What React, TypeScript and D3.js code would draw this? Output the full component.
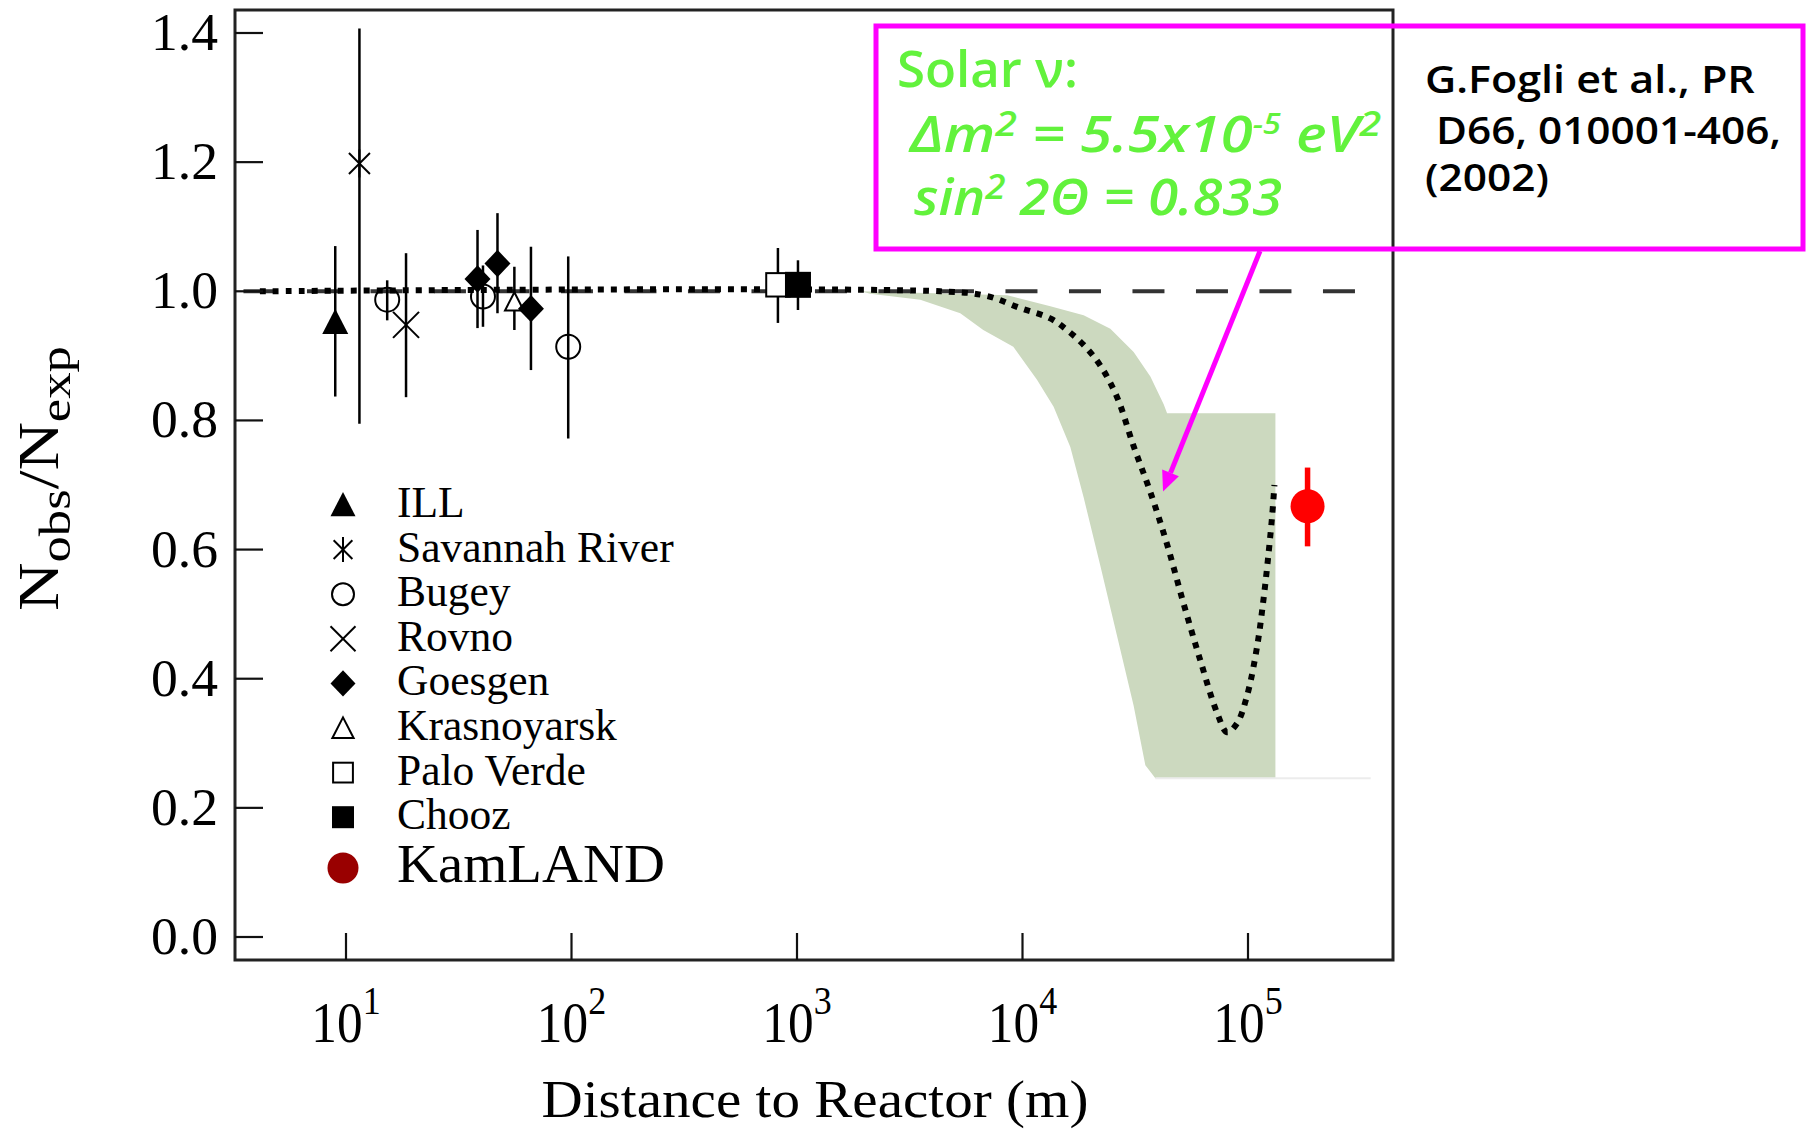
import React, { useLayoutEffect, useRef } from 'react';
import * as d3 from 'd3';

// ---------- data ----------
const xTickValues = [1e1, 1e2, 1e3, 1e4, 1e5];
const xTickExponents = ['1', '2', '3', '4', '5'];
const yTickValues = [0, 0.2, 0.4, 0.6, 0.8, 1.0, 1.2, 1.4];
const yTickLabels = ['0.0', '0.2', '0.4', '0.6', '0.8', '1.0', '1.2', '1.4'];

const legendNames = ['ILL', 'Savannah River', 'Bugey', 'Rovno', 'Goesgen', 'Krasnoyarsk', 'Palo Verde', 'Chooz'];
const legendSymbols = ['triangle', 'asterisk', 'circle', 'cross', 'diamond', 'openTriangle', 'openSquare', 'square'];

const pointSymbol = ['triangle', 'asterisk', 'circle', 'cross', 'diamond', 'circle', 'diamond', 'openTriangle', 'diamond', 'circle', 'openSquare', 'square'];
const pointDistance = [8.96, 11.47, 15.23, 18.46, 38.3, 40.5, 46.96, 55.8, 66.1, 96.7, 823, 1010];
const pointRatio = [0.952, 1.198, 0.987, 0.948, 1.019, 0.992, 1.043, 0.984, 0.973, 0.914, 1.01, 1.01];
const pointErrHigh = [1.07, 1.407, 1.017, 1.059, 1.095, 1.04, 1.121, 1.038, 1.069, 1.054, 1.067, 1.048];
const pointErrLow = [0.837, 0.795, 0.955, 0.836, 0.943, 0.945, 0.966, 0.94, 0.878, 0.772, 0.951, 0.971];

const kamlandDistance = 1.837e5;
const kamlandRatio = 0.667;
const kamlandErrHigh = 0.727;
const kamlandErrLow = 0.605;

const curveDistance = [4.15, 4315, 6900, 9770, 13285, 15750, 18665, 22140, 26265, 31110, 36900, 43770, 51840, 61500, 72940, 80800, 89460, 99100, 109750, 117430, 123600, 127940, 131000];
const curveRatio = [1.0, 1.0, 0.993, 0.974, 0.958, 0.94, 0.917, 0.885, 0.836, 0.76, 0.689, 0.608, 0.516, 0.428, 0.347, 0.317, 0.331, 0.374, 0.45, 0.526, 0.597, 0.652, 0.7];

const bandUpperDistance = [1908, 4932, 8561, 13285, 18665, 24520, 31110, 36900, 42270, 43770, 132300];
const bandUpperRatio = [1.0, 0.996, 0.994, 0.977, 0.963, 0.942, 0.906, 0.868, 0.825, 0.811, 0.811];
const bandLowerDistance = [1908, 2113, 3521, 5297, 6700, 9104, 11595, 13740, 16293, 18665, 22141, 26265, 31109, 35060, 38840, 132300];
const bandLowerRatio = [1.0, 0.996, 0.987, 0.966, 0.94, 0.914, 0.863, 0.821, 0.759, 0.681, 0.575, 0.466, 0.358, 0.266, 0.246, 0.246];

const refLineFrom = 3.51;
const refLineTo = 3.06e5;
const refLineRatio = 1.0;
const bandBaseTo = 3.5e5;
const arrowTarget: [number, number] = [42000, 0.69];

// ---------- layout ----------
const W = 1807;
const H = 1131;
const frame = { left: 235, right: 1393, top: 10, bottom: 960 };
const serif = '"Liberation Serif", "Times New Roman", serif';
const sans = '"Open Sans", "Noto Sans", sans-serif';
const green = '#62f23c';
const magenta = '#ff00ff';

const x = d3.scaleLog().domain([1e1, 1e5]).range([346, 1248]);
const y = d3.scaleLinear().domain([0, 1.4]).range([937, 33]);

function Marker({ type, cx, cy, s }: { type: string; cx: number; cy: number; s: number }) {
  const h = s / 2;
  switch (type) {
    case 'triangle':
      return <path d={`M${cx},${cy - h * 1.05}L${cx + h},${cy + h * 0.9}L${cx - h},${cy + h * 0.9}Z`} fill="#000" />;
    case 'openTriangle':
      return <path d={`M${cx},${cy - h * 0.85}L${cx + h * 0.85},${cy + h * 0.8}L${cx - h * 0.85},${cy + h * 0.8}Z`} fill="#fff" stroke="#000" strokeWidth={2} />;
    case 'asterisk': {
      const a = h * 0.75;
      return (
        <g stroke="#000" strokeWidth={2} fill="none">
          <line x1={cx} y1={cy - h} x2={cx} y2={cy + h} />
          <line x1={cx - a} y1={cy - a} x2={cx + a} y2={cy + a} />
          <line x1={cx - a} y1={cy + a} x2={cx + a} y2={cy - a} />
        </g>
      );
    }
    case 'circle':
      return <circle cx={cx} cy={cy} r={h - 1} fill="none" stroke="#000" strokeWidth={2} />;
    case 'cross':
      return (
        <g stroke="#000" strokeWidth={2}>
          <line x1={cx - h} y1={cy - h} x2={cx + h} y2={cy + h} />
          <line x1={cx - h} y1={cy + h} x2={cx + h} y2={cy - h} />
        </g>
      );
    case 'diamond':
      return <path d={`M${cx},${cy - h * 1.05}L${cx + h},${cy}L${cx},${cy + h * 1.05}L${cx - h},${cy}Z`} fill="#000" />;
    case 'openSquare':
      return <rect x={cx - h * 0.9} y={cy - h * 0.9} width={s * 0.9} height={s * 0.9} fill="#fff" stroke="#000" strokeWidth={2} />;
    case 'square':
      return <rect x={cx - h} y={cy - h} width={s} height={s} fill="#000" />;
    default:
      return null;
  }
}

export default function App() {
  const ref = useRef<SVGSVGElement>(null);

  useLayoutEffect(() => {
    const fit = () => {
      const svg = ref.current;
      if (!svg) return;
      svg.querySelectorAll('[data-fitw]').forEach((node) => {
        const el = node as SVGTextElement;
        const target = +(el.getAttribute('data-fitw') || 0);
        const ax = +(el.getAttribute('data-ax') || 0);
        el.removeAttribute('transform');
        const w = el.getBBox().width;
        if (w > 0) {
          const s = target / w;
          el.setAttribute('transform', `translate(${ax * (1 - s)},0) scale(${s},1)`);
        }
      });
    };
    fit();
    if ((document as any).fonts && (document as any).fonts.ready) {
      (document as any).fonts.ready.then(fit);
    }
  }, []);

  const line = d3
    .line<[number, number]>()
    .x((d) => x(d[0]))
    .y((d) => y(d[1]));

  const curvePts: [number, number][] = curveDistance.map((d, i) => [d, curveRatio[i]]);
  const curvePath = d3
    .line<[number, number]>()
    .x((d) => x(d[0]))
    .y((d) => y(d[1]))
    .curve(d3.curveCatmullRom.alpha(0.5))(curvePts) as string;

  const bandPts: [number, number][] = [
    ...bandUpperDistance.map((d, i) => [d, bandUpperRatio[i]] as [number, number]),
    ...bandLowerDistance
      .map((d, i) => [d, bandLowerRatio[i]] as [number, number])
      .reverse(),
  ];
  const bandPath = (line(bandPts) as string) + 'Z';

  // arrow geometry
  const ax0 = 1260;
  const ay0 = 251;
  const ax1 = x(arrowTarget[0]);
  const ay1 = y(arrowTarget[1]);
  const ang = Math.atan2(ay1 - ay0, ax1 - ax0);
  const headL = 20;
  const headW = 9;
  const bx = ax1 - headL * Math.cos(ang);
  const by = ay1 - headL * Math.sin(ang);
  const px = -Math.sin(ang);
  const py = Math.cos(ang);

  const legendY0 = 505;
  const legendStep = 44.6;
  const legendSymX = 343;
  const legendTextX = 397;

  return (
    <svg
      ref={ref}
      width={W}
      height={H}
      viewBox={`0 0 ${W} ${H}`}
      style={{ position: 'absolute', left: 0, top: 0, background: '#fff' }}
    >
      <rect x={0} y={0} width={W} height={H} fill="#fff" />

      {/* band */}
      <path d={bandPath} fill="#ccd9bf" stroke="none" />
      <line
        x1={x(bandLowerDistance[bandLowerDistance.length - 2])}
        x2={x(bandBaseTo)}
        y1={y(bandLowerRatio[bandLowerRatio.length - 1])}
        y2={y(bandLowerRatio[bandLowerRatio.length - 1])}
        stroke="#ececec"
        strokeWidth={2}
      />

      {/* reference dashed line at 1 */}
      <line
        x1={x(refLineFrom)}
        x2={x(refLineTo)}
        y1={y(refLineRatio)}
        y2={y(refLineRatio)}
        stroke="#333"
        strokeWidth={4}
        strokeDasharray="32 31.5"
      />

      {/* dotted oscillation curve */}
      <path d={curvePath} fill="none" stroke="#000" strokeWidth={6} strokeDasharray="6 7" />

      {/* error bars */}
      {pointDistance.map((d, i) => (
        <line
          key={`e${i}`}
          x1={x(d)}
          x2={x(d)}
          y1={y(pointErrHigh[i])}
          y2={y(pointErrLow[i])}
          stroke="#000"
          strokeWidth={2.5}
        />
      ))}
      {/* markers */}
      {pointDistance.map((d, i) => (
        <Marker
          key={`m${i}`}
          type={pointSymbol[i]}
          cx={x(d)}
          cy={y(pointRatio[i])}
          s={pointSymbol[i] === 'openTriangle' ? 22 : pointSymbol[i] === 'asterisk' ? 28 : 26}
        />
      ))}

      {/* KamLAND */}
      <line
        x1={x(kamlandDistance)}
        x2={x(kamlandDistance)}
        y1={y(kamlandErrHigh)}
        y2={y(kamlandErrLow)}
        stroke="#ff0000"
        strokeWidth={5.5}
      />
      <circle cx={x(kamlandDistance)} cy={y(kamlandRatio)} r={17} fill="#ff0000" />

      {/* frame */}
      <rect
        x={frame.left}
        y={frame.top}
        width={frame.right - frame.left}
        height={frame.bottom - frame.top}
        fill="none"
        stroke="#222"
        strokeWidth={3}
      />

      {/* y ticks */}
      {yTickValues.map((v, i) => (
        <g key={`yt${i}`}>
          <line x1={frame.left} x2={frame.left + 28} y1={y(v)} y2={y(v)} stroke="#111" strokeWidth={2.2} />
          <text
            x={218}
            y={y(v) + 17}
            textAnchor="end"
            fontFamily={serif}
            fontSize={53}
            fill="#000"
            data-fitw={67}
            data-ax={218}
          >
            {yTickLabels[i]}
          </text>
        </g>
      ))}

      {/* x ticks */}
      {xTickValues.map((v, i) => (
        <g key={`xt${i}`}>
          <line x1={x(v)} x2={x(v)} y1={frame.bottom} y2={frame.bottom - 27} stroke="#111" strokeWidth={2.2} />
          <g transform={`translate(${x(v)},1042) scale(0.9,1)`}>
            <text x={0} y={0} textAnchor="middle" fontFamily={serif} fontSize={57} fill="#000">
              10
              <tspan dy={-28} fontSize={40}>
                {xTickExponents[i]}
              </tspan>
            </text>
          </g>
        </g>
      ))}

      {/* axis titles */}
      <text
        x={815}
        y={1117}
        textAnchor="middle"
        fontFamily={serif}
        fontSize={53}
        fill="#000"
        data-fitw={547}
        data-ax={815}
      >
        Distance to Reactor (m)
      </text>
      <g transform="translate(58,478.5) rotate(-90)">
        <text x={0} y={0} textAnchor="middle" fontFamily={serif} fontSize={56} fill="#000" data-fitw={265} data-ax={0}>
          N
          <tspan fontSize={44} dy={12}>
            obs
          </tspan>
          <tspan dy={-12}>/N</tspan>
          <tspan fontSize={44} dy={12}>
            exp
          </tspan>
        </text>
      </g>

      {/* legend */}
      {legendNames.map((name, i) => {
        const cy = legendY0 + i * legendStep;
        const sym = legendSymbols[i];
        const s = sym === 'openTriangle' ? 25 : sym === 'openSquare' || sym === 'square' ? 22 : sym === 'circle' ? 24 : 25;
        return (
          <g key={`lg${i}`}>
            <Marker type={sym} cx={legendSymX} cy={cy} s={s} />
            <text x={legendTextX} y={cy + 12} fontFamily={serif} fontSize={43.5} fill="#000">
              {name}
            </text>
          </g>
        );
      })}
      <circle cx={legendSymX} cy={868} r={15.5} fill="#990000" />
      <text x={legendTextX} y={882} fontFamily={serif} fontSize={54} fill="#000" data-fitw={268} data-ax={legendTextX}>
        KamLAND
      </text>

      {/* annotation box */}
      <rect x={876} y={26} width={927} height={223} fill="none" stroke={magenta} strokeWidth={5} />
      <text x={897} y={87} fontFamily={sans} fontSize={50} fontWeight={600} fill={green} data-fitw={181} data-ax={897}>
        Solar ν:
      </text>
      <text x={910} y={152} fontFamily={sans} fontSize={50} fontWeight={600} fontStyle="italic" fill={green} data-fitw={474} data-ax={910}>
        Δm
        <tspan fontSize={34} dy={-16}>2</tspan>
        <tspan dy={16}> = 5.5x10</tspan>
        <tspan fontSize={28} dy={-18}>-5</tspan>
        <tspan dy={18}> eV</tspan>
        <tspan fontSize={34} dy={-16}>2</tspan>
      </text>
      <text x={914} y={215} fontFamily={sans} fontSize={50} fontWeight={600} fontStyle="italic" fill={green} data-fitw={368} data-ax={914}>
        sin
        <tspan fontSize={34} dy={-16}>2</tspan>
        <tspan dy={16}> 2Θ = 0.833</tspan>
      </text>

      <text x={1425} y={93} fontFamily={sans} fontSize={38} fontWeight={600} fill="#000" data-fitw={330} data-ax={1425}>
        G.Fogli et al., PR
      </text>
      <text x={1436} y={144} fontFamily={sans} fontSize={38} fontWeight={600} fill="#000" data-fitw={345} data-ax={1436}>
        D66, 010001-406,
      </text>
      <text x={1425} y={191} fontFamily={sans} fontSize={38} fontWeight={600} fill="#000" data-fitw={124} data-ax={1425}>
        (2002)
      </text>

      {/* arrow */}
      <line x1={ax0} y1={ay0} x2={bx} y2={by} stroke={magenta} strokeWidth={5} />
      <path
        d={`M${ax1},${ay1}L${bx + px * headW},${by + py * headW}L${bx - px * headW},${by - py * headW}Z`}
        fill={magenta}
      />
    </svg>
  );
}
